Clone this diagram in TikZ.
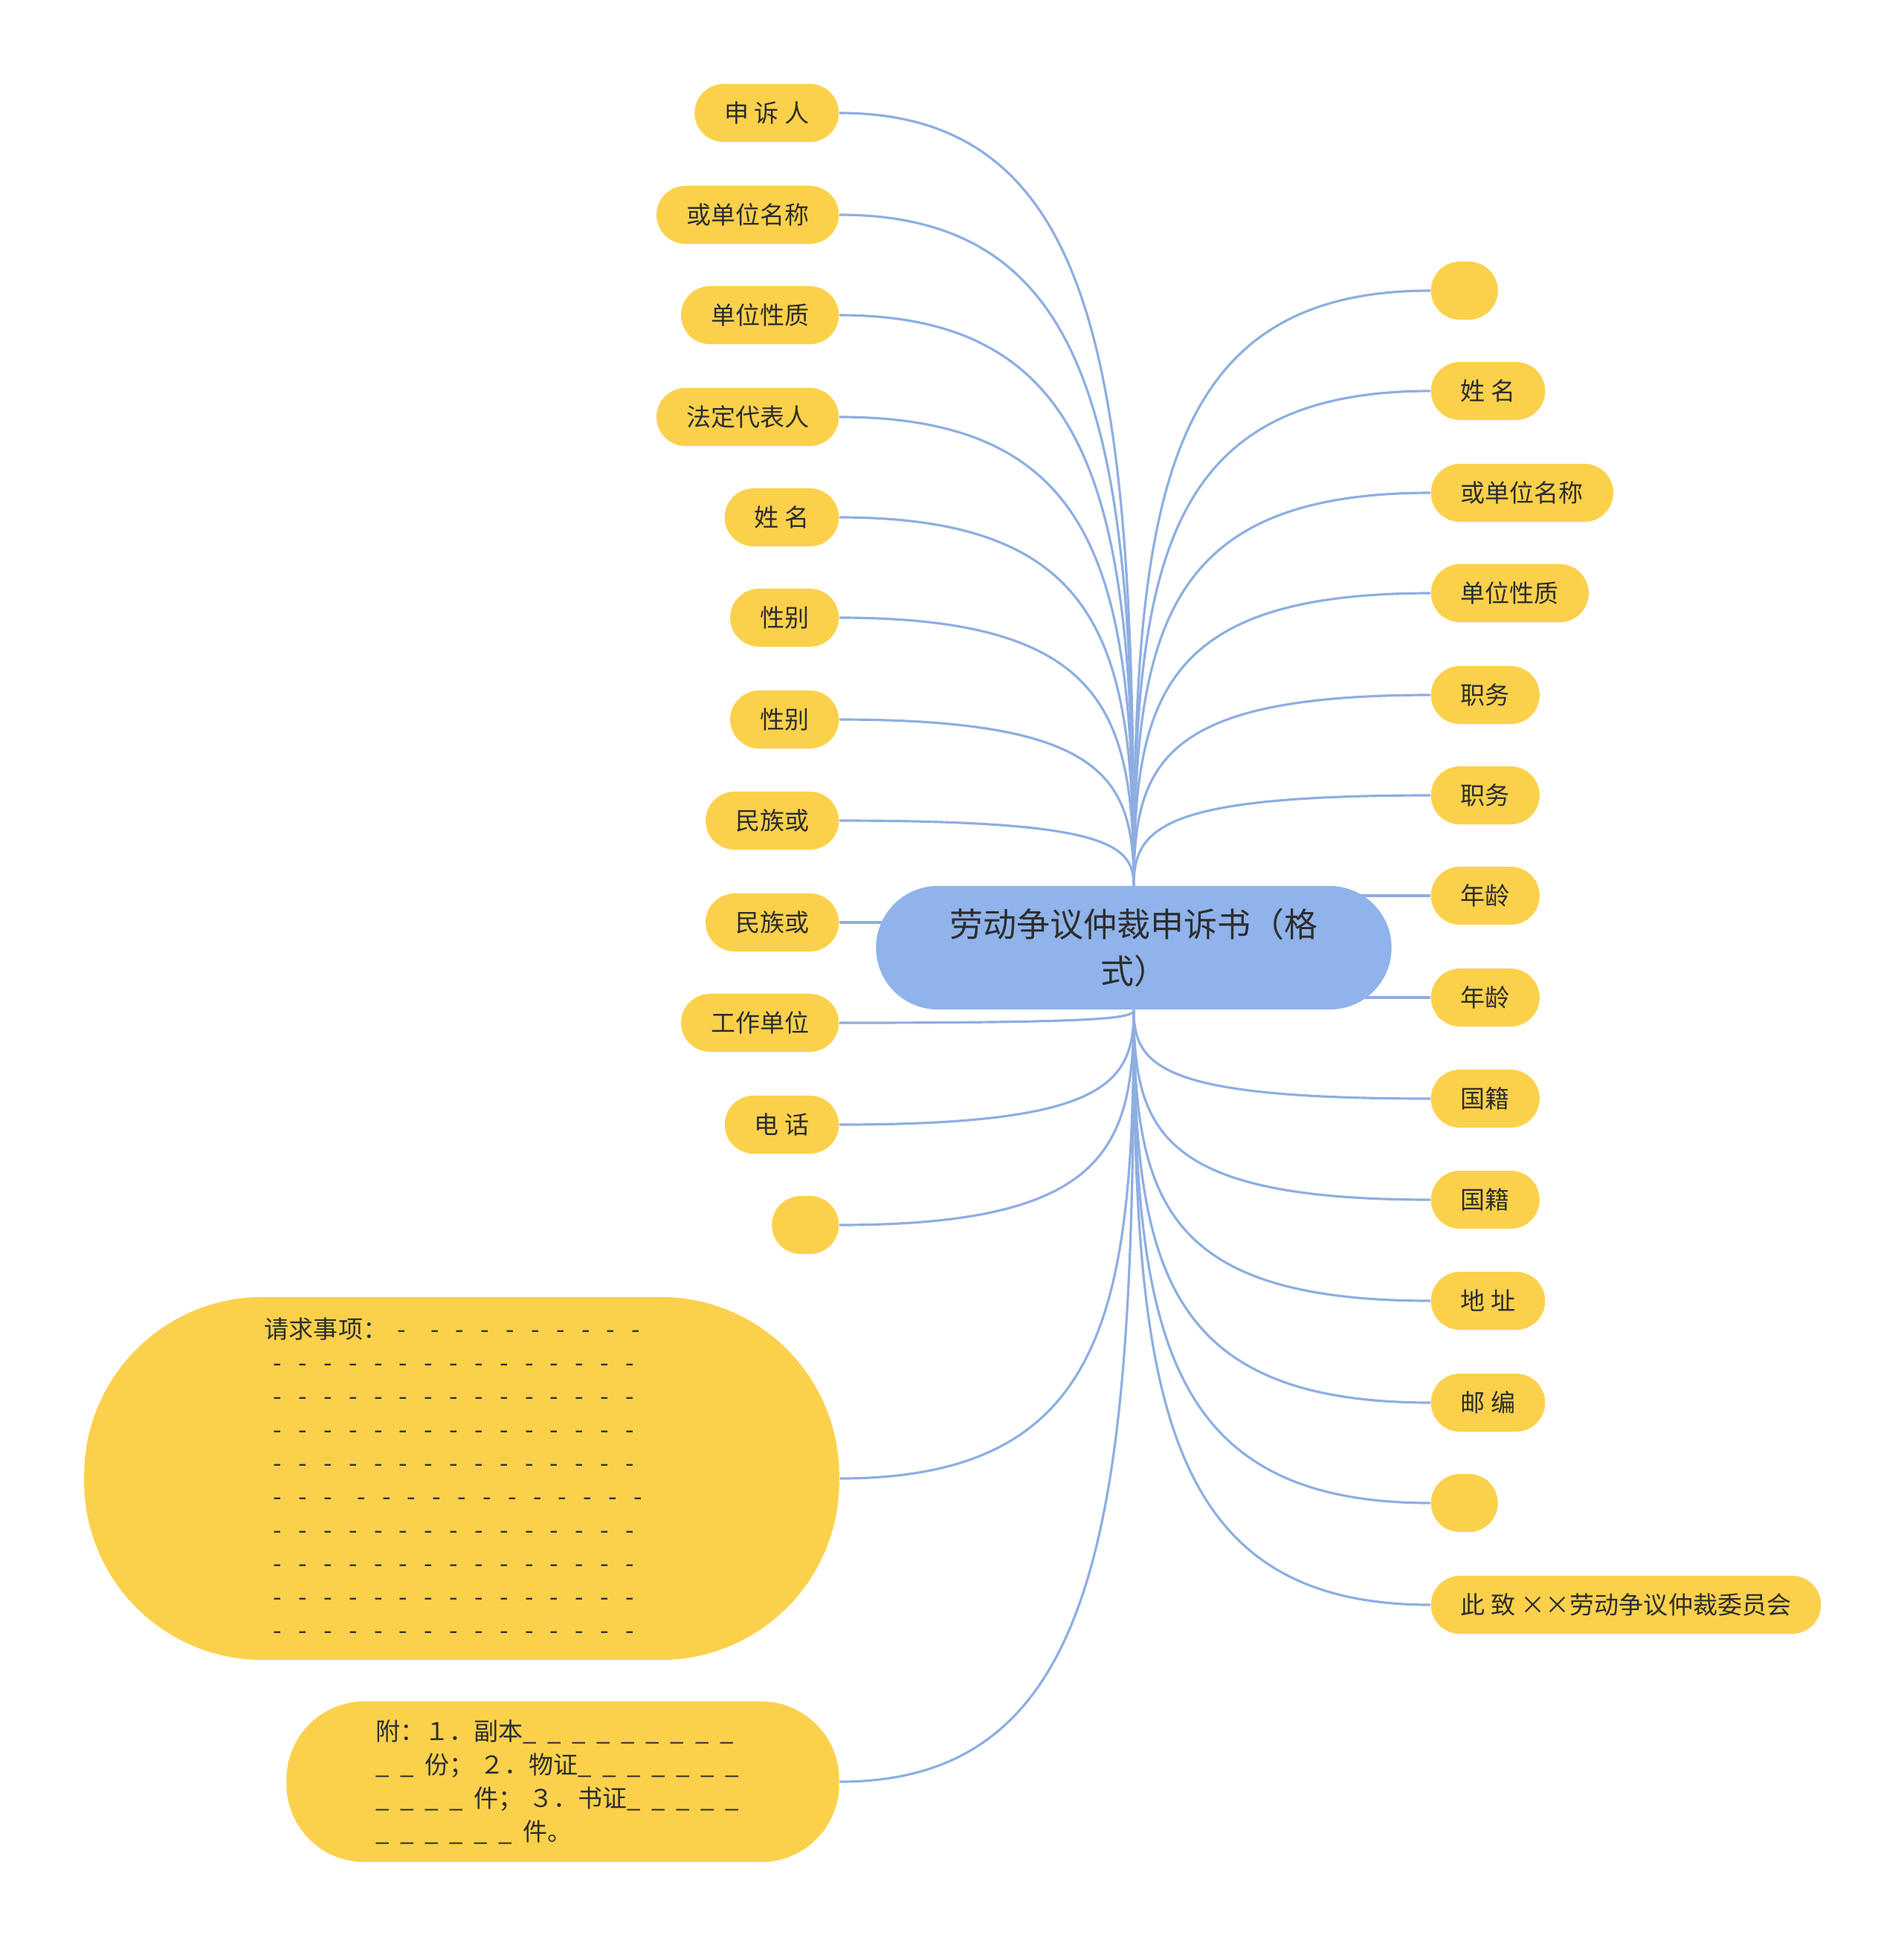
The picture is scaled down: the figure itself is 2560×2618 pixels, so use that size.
\documentclass[tikz,border=0pt]{standalone}
\usepackage{fontspec}
\setmainfont{Noto Sans CJK SC}
\usetikzlibrary{calc,backgrounds}

\definecolor{leafyellow}{RGB}{251,209,76}
\definecolor{rootblue}{RGB}{143,179,234}
\definecolor{edgeblue}{RGB}{142,174,226}
\definecolor{inkgray}{RGB}{45,45,45}

\newcommand{\dashrow}[1]{\foreach \k in {1,...,#1}{\makebox[0.338cm][l]{-}}}
\newcommand{\blankrow}[1]{\foreach \k in {1,...,#1}{\makebox[0.33cm][l]{\_}}}

\tikzset{
  leaf/.style={fill=leafyellow, text=inkgray, rounded corners=0.39cm,
    minimum height=0.78cm, minimum width=0.9cm, inner xsep=0.4cm, inner ysep=0pt,
    font=\fontsize{9.4}{12.8}\selectfont},
  bigleaf/.style={leaf, align=left, inner xsep=0pt},
  root/.style={fill=rootblue, text=inkgray, rounded corners=0.83cm,
    minimum width=6.93cm, minimum height=1.66cm, align=center,
    font=\fontsize{12.8}{17.9}\selectfont},
  edge/.style={draw=edgeblue, line width=0.9pt}
}

\begin{document}
\begin{tikzpicture}[x=0.01cm,y=-0.01cm]
\useasboundingbox (0,0) rectangle (2560,2618);

\node[root] (root) at (1525,1275) {劳动争议仲裁申诉书（格\\式）};

% left side
\foreach \y/\t [count=\i] in {152/申 诉 人,289/或单位名称,424/单位性质,561/法定代表人,
  696/姓 名,831/性别,968/性别,1104/民族或,1241/民族或,1376/工作单位,1513/电 话,1648/}
  \node[leaf,anchor=east] (L\i) at (1129,\y) {\t};

\node[bigleaf, rounded corners=2.4cm, minimum width=10.15cm, minimum height=4.88cm]
  (ask) at (621,1989) {请求事项：\hspace{0.13cm}\makebox[0.45cm][l]{-}\dashrow{9}\\
  \hspace{0.12cm}\dashrow{15}\\ \hspace{0.12cm}\dashrow{15}\\ \hspace{0.12cm}\dashrow{15}\\
  \hspace{0.12cm}\dashrow{15}\\ \hspace{0.12cm}\dashrow{3}\hspace{0.11cm}\dashrow{12}\\
  \hspace{0.12cm}\dashrow{15}\\ \hspace{0.12cm}\dashrow{15}\\ \hspace{0.12cm}\dashrow{15}\\
  \hspace{0.12cm}\dashrow{15}};

\node[bigleaf, rounded corners=1.05cm, minimum width=7.43cm, minimum height=2.16cm]
  (attach) at (757,2397) {附：１．副本\blankrow{9}\\
  \blankrow{2}份； ２．物证\blankrow{7}\\
  \blankrow{4}件； ３．书证\blankrow{5}\\
  \blankrow{6}件。};

% right side
\foreach \y/\t [count=\i] in {391/,526/姓 名,663/或单位名称,798/单位性质,935/职务,
  1070/职务,1205/年龄,1342/年龄,1478/国籍,1614/国籍,1750/地 址,1887/邮 编,2022/,
  2159/此 致 ××劳动争议仲裁委员会}
  \node[leaf,anchor=west] (R\i) at (1924,\y) {\t};

\begin{scope}[on background layer]
\foreach \i in {1,...,8}
  \draw[edge] (root.north) .. controls ($(root.north)!.65!(root.north|-L\i.east)$)
    and ($(L\i.east)!.9!(L\i.east-|root.north)$) .. (L\i.east);
\draw[edge] (L9.east) -- (L9.east-|root.center);
\foreach \n in {L10,L11,L12,ask,attach}
  \draw[edge] (root.south) .. controls ($(root.south)!.65!(root.south|-\n.east)$)
    and ($(\n.east)!.9!(\n.east-|root.south)$) .. (\n.east);
\foreach \i in {1,...,6}
  \draw[edge] (root.north) .. controls ($(root.north)!.65!(root.north|-R\i.west)$)
    and ($(R\i.west)!.9!(R\i.west-|root.north)$) .. (R\i.west);
\draw[edge] (R7.west) -- (R7.west-|root.center);
\draw[edge] (R8.west) -- (R8.west-|root.center);
\foreach \i in {9,...,14}
  \draw[edge] (root.south) .. controls ($(root.south)!.65!(root.south|-R\i.west)$)
    and ($(R\i.west)!.9!(R\i.west-|root.south)$) .. (R\i.west);
\end{scope}
\end{tikzpicture}
\end{document}
